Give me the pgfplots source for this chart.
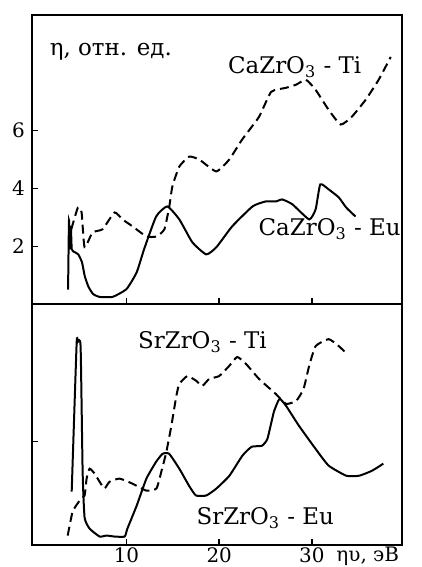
\documentclass[border=0pt]{standalone}
\usepackage{pgfplots}
\pgfplotsset{compat=1.18}
\usepackage{fontspec}
\setmainfont{DejaVu Serif}
\newcommand{\lab}{\fontsize{11.5}{13}\selectfont}
\begin{document}
\begin{tikzpicture}
\pgfplotsset{every axis/.append style={
  scale only axis, width=185.5pt,
  xmin=-0.2, xmax=39.7, ymin=0, ymax=10,
  axis line style={line width=1pt},
  tick style={line width=0.8pt, black},
  tick align=inside, major tick length=3pt,
  xtick={10,20,30}, xtick pos=left, ytick pos=left,
  clip=false,
  /pgf/number format/assume math mode=true,
  tick label style={font=\fontsize{10}{12}\selectfont},
  xticklabel style={inner sep=0.8pt},
}}
% bottom panel
\begin{axis}[at={(0,0)}, anchor=south west, height=121pt,
  ytick={4.3}, yticklabels={}]
\addplot[black, line width=1pt, smooth, tension=0.3] coordinates {
(4.09,2.23)(4.62,8.35)(4.73,8.43)(5.05,8.26)(5.27,3.06)(5.48,1.16)(6.02,0.70)
(7.1,0.37)(7.85,0.41)(8.7,0.37)(9.8,0.37)(10.1,0.70)(11.1,1.65)(12.15,2.77)
(13.2,3.47)(13.9,3.80)(14.6,3.80)(15.7,3.18)(16.8,2.44)(17.5,2.07)(18.6,2.07)
(19.7,2.36)(21.1,2.89)(22.5,3.72)(23.5,4.09)(24.6,4.13)(25.2,4.42)(25.9,5.54)
(26.5,6.07)(27.2,5.79)(28.6,4.96)(30.4,4.0)(31.8,3.31)(33.7,2.89)(35.1,2.89)
(36.5,3.10)(37.7,3.39)};
\addplot[black, line width=1pt, dash pattern=on 4.5pt off 2.5pt, smooth, tension=0.3] coordinates {
(3.66,0.41)(4.19,1.40)(4.95,1.86)(5.48,2.07)(5.70,2.77)(6.02,3.18)(6.56,2.98)
(7.10,2.64)(7.63,2.36)(8.17,2.64)(9.25,2.77)(10.65,2.56)(12.15,2.27)(13.23,2.36)
(13.76,3.06)(14.3,3.88)(14.84,4.96)(15.38,6.2)(15.7,6.69)(16.56,7.02)(17.53,6.82)
(18.17,6.61)(18.92,6.90)(20.0,7.02)(21.08,7.44)(21.94,7.81)(22.9,7.52)(24.3,6.90)
(26.1,6.28)(27.2,5.87)(28.3,5.99)(29.1,6.49)(29.7,7.44)(30.4,8.26)(31.8,8.55)
(32.9,8.26)(33.8,7.93)};
\node[anchor=west, font=\lab] at (axis cs:10.5,8.43) {SrZrO\textsubscript{3} - Ti};
\node[anchor=west, font=\lab] at (axis cs:16.8,1.12) {SrZrO\textsubscript{3} - Eu};
\node[anchor=north west, font=\fontsize{10}{12}\selectfont, inner sep=0pt, yshift=-0.6pt] at (axis cs:32.6,0) {ηυ, эВ};
\end{axis}
% top panel
\begin{axis}[at={(0,121pt)}, anchor=south west, height=145pt,
  ytick={2,4,6}, xticklabels={}]
\addplot[black, line width=1pt, smooth, tension=0.3] coordinates {
(3.7,0.5)(3.8,2.9)(3.9,1.9)(4.0,2.7)(4.1,1.9)(4.4,1.8)(4.8,1.72)(5.2,1.45)
(5.5,0.97)(5.9,0.6)(6.4,0.35)(7.1,0.25)(8.5,0.25)(10.0,0.52)(11.1,1.1)(11.9,1.9)
(13.2,3.03)(14.4,3.38)(15.7,2.93)(17.1,2.14)(18.6,1.72)(19.7,1.97)(21.4,2.69)
(23.6,3.38)(25.0,3.55)(26.1,3.55)(26.8,3.62)(27.9,3.45)(29.7,2.93)(30.4,3.28)
(30.9,4.14)(31.8,3.97)(32.9,3.69)(33.7,3.34)(34.7,3.03)};
\addplot[black, line width=1pt, dash pattern=on 4.5pt off 2.5pt, smooth, tension=0.3] coordinates {
(4.05,2.59)(4.76,3.34)(5.16,3.17)(5.48,1.97)(6.34,2.48)(7.42,2.59)(8.71,3.17)
(9.57,2.93)(10.65,2.69)(12.15,2.34)(13.23,2.34)(14.09,2.59)(14.62,3.38)(14.95,4.07)
(15.7,4.76)(16.77,5.10)(17.85,5.0)(19.68,4.59)(21.08,5.0)(22.47,5.69)(24.3,6.48)
(25.6,7.34)(27.2,7.48)(28.3,7.59)(29.35,7.76)(30.4,7.41)(31.8,6.72)(33.1,6.21)
(34.3,6.48)(35.8,7.07)(37.2,7.76)(38.5,8.55)};
\node[anchor=west, font=\lab] at (axis cs:0.97,8.72) {η, отн. ед.};
\node[anchor=west, font=\lab] at (axis cs:20.2,8.2) {CaZrO\textsubscript{3} - Ti};
\node[anchor=west, font=\lab] at (axis cs:23.5,2.59) {CaZrO\textsubscript{3} - Eu};
\end{axis}
\pgfresetboundingbox
\path[use as bounding box] (-16pt,-10.8pt) rectangle (195.1pt,273.5pt);
\end{tikzpicture}
\end{document}
